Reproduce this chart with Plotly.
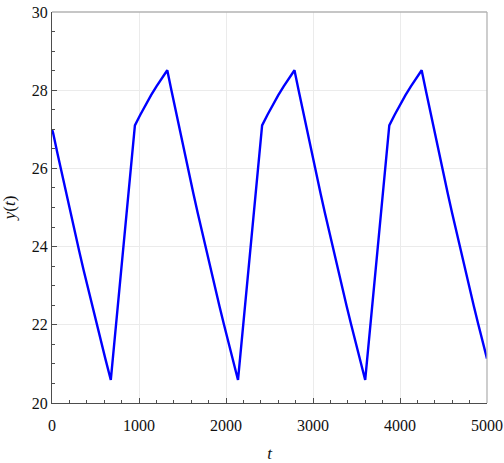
import plotly.graph_objects as go

# Data (time t, output y)
t_vals = [0, 13, 63, 113, 163, 213, 263, 313, 363, 413, 463, 513, 563, 613, 676,
          815, 953, 1015, 1077, 1139, 1201, 1263, 1325,
          1375, 1425, 1475, 1525, 1575, 1625, 1675, 1725, 1775, 1825, 1875, 1925,
          1975, 2025, 2075, 2138,
          2277, 2415, 2477, 2539, 2601, 2663, 2725, 2787,
          2837, 2887, 2937, 2987, 3037, 3087, 3137, 3187, 3237, 3287, 3337, 3387,
          3437, 3487, 3537, 3600,
          3739, 3877, 3939, 4001, 4063, 4125, 4187, 4249,
          4299, 4349, 4399, 4449, 4499, 4549, 4599, 4649, 4699, 4749, 4799, 4849,
          4899, 4949, 5000]
y_vals = [27.0, 26.905, 26.382, 25.866, 25.358, 24.858, 24.366, 23.881, 23.404,
          22.935, 22.474, 22.020, 21.573, 21.135, 20.59,
          23.85, 27.1, 27.372, 27.629, 27.872, 28.100, 28.314, 28.51,
          27.974, 27.435, 26.905, 26.382, 25.866, 25.358, 24.858, 24.366, 23.881,
          23.404, 22.935, 22.474, 22.020, 21.573, 21.135, 20.59,
          23.85, 27.1, 27.372, 27.629, 27.872, 28.100, 28.314, 28.51,
          27.974, 27.435, 26.905, 26.382, 25.866, 25.358, 24.858, 24.366, 23.881,
          23.404, 22.935, 22.474, 22.020, 21.573, 21.135, 20.59,
          23.85, 27.1, 27.372, 27.629, 27.872, 28.100, 28.314, 28.51,
          27.974, 27.435, 26.905, 26.382, 25.866, 25.358, 24.858, 24.366, 23.881,
          23.404, 22.935, 22.474, 22.020, 21.573, 21.135, 21.12]

x_ticks = [0, 1000, 2000, 3000, 4000, 5000]
y_ticks = [20, 22, 24, 26, 28, 30]

FONT = "Liberation Serif"
AXIS_DARK = "#4d4d4d"
AXIS_LIGHT = "#b3b3b3"
GRID = "#ebebeb"

fig = go.Figure()
fig.add_trace(go.Scatter(x=t_vals, y=y_vals, mode="lines",
                         line=dict(color="#0000ff", width=2.4),
                         showlegend=False))

common = dict(showline=True, linecolor=AXIS_DARK, linewidth=1.3,
              ticks="inside", ticklen=5, tickwidth=1, tickcolor=AXIS_DARK,
              showgrid=True, gridcolor=GRID, gridwidth=1, zeroline=False,
              automargin=False, ticklabeloverflow="allow",
              tickfont=dict(family=FONT, size=16, color="#111111"))

fig.update_layout(
    width=504, height=463,
    margin=dict(l=52, r=17, t=12, b=60),
    paper_bgcolor="white", plot_bgcolor="white",
    font=dict(family=FONT, size=16, color="#111111"),
    xaxis=dict(range=[0, 5000], tickvals=x_ticks,
               ticktext=[str(v) for v in x_ticks],
               ticklabelstandoff=8,
               minor=dict(ticks="inside", dtick=200, tick0=0, ticklen=3,
                          tickcolor=AXIS_DARK, showgrid=False),
               title=dict(text="<i>t</i>", font=dict(family=FONT, size=17, color="#111111"),
                          standoff=13),
               **common),
    yaxis=dict(range=[20, 30], tickvals=y_ticks,
               ticktext=[str(v) for v in y_ticks],
               minor=dict(ticks="inside", dtick=0.5, tick0=20, ticklen=3,
                          tickcolor=AXIS_DARK, showgrid=False),
               title=dict(text="<i>y</i>(<i>t</i>)", font=dict(family=FONT, size=17, color="#111111"),
                          standoff=12),
               **common),
)

# light top and right frame lines
fig.add_shape(type="line", xref="paper", yref="paper", x0=0, x1=1, y0=1, y1=1,
              line=dict(color=AXIS_LIGHT, width=1.3))
fig.add_shape(type="line", xref="paper", yref="paper", x0=1, x1=1, y0=0, y1=1,
              line=dict(color=AXIS_LIGHT, width=1.3))

fig.write_html("out.html")
